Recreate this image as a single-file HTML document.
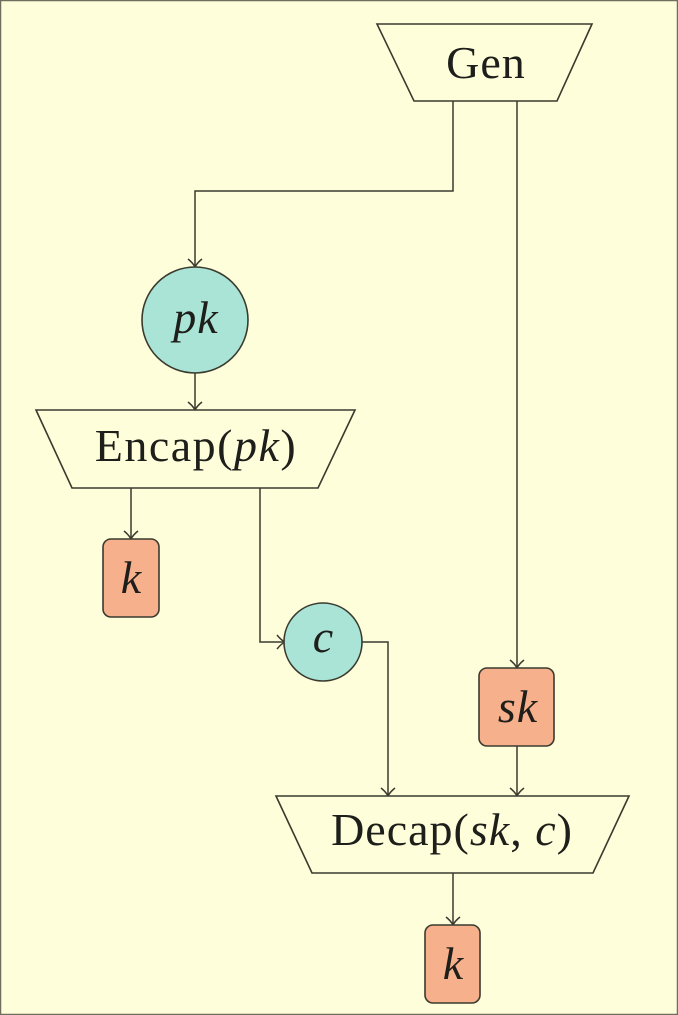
<!DOCTYPE html>
<html>
<head>
<meta charset="utf-8">
<style>
html,body{margin:0;padding:0;background:#fefedb;}
body{width:678px;height:1015px;overflow:hidden;}
svg{display:block;}
text{font-family:"Liberation Serif",serif;fill:#1e1e1a;}
.i{font-style:italic;}
</style>
</head>
<body>
<svg width="678" height="1015" viewBox="0 0 678 1015" xmlns="http://www.w3.org/2000/svg">
<rect x="0.5" y="0.5" width="677" height="1014" fill="#fefedb" stroke="#6e6e5e" stroke-width="1.5"/>
<g fill="none" stroke="#3a3a2f" stroke-width="1.5">
  <polyline points="453,101 453,191 195,191 195,266"/>
  <polyline points="517,101 517,667"/>
  <polyline points="195,373 195,409"/>
  <polyline points="131,488 131,538"/>
  <polyline points="260,488 260,642 283,642"/>
  <polyline points="362,642 388,642 388,795"/>
  <polyline points="517,746 517,795"/>
  <polyline points="453,873 453,924"/>
  <path d="M188,259 Q193,263 195,267 Q197,263 202,259"/>
  <path d="M510,660 Q515,664 517,668 Q519,664 524,660"/>
  <path d="M188,402 Q193,406 195,410 Q197,406 202,402"/>
  <path d="M124,531 Q129,535 131,539 Q133,535 138,531"/>
  <path d="M381,788 Q386,792 388,796 Q390,792 395,788"/>
  <path d="M510,788 Q515,792 517,796 Q519,792 524,788"/>
  <path d="M446,917 Q451,921 453,925 Q455,921 460,917"/>
  <path d="M277,635 Q281,640 285,642 Q281,644 277,649"/>
</g>
<g stroke="#3a3a2f" stroke-width="1.6">
  <polygon points="377,24 592,24 557,101 414,101" fill="#fefedb"/>
  <polygon points="36,410 355,410 318,488 72,488" fill="#fefedb"/>
  <polygon points="276,796 629,796 593,873 312,873" fill="#fefedb"/>
  <circle cx="195" cy="320" r="53" fill="#a9e4d6"/>
  <circle cx="323" cy="642" r="39" fill="#a9e4d6"/>
  <rect x="479" y="668" width="75" height="78" rx="8" fill="#f6b08c"/>
  <rect x="103" y="539" width="56" height="78" rx="8" fill="#f6b08c"/>
  <rect x="425" y="925" width="55" height="78" rx="8" fill="#f6b08c"/>
</g>
<text x="486" y="78" font-size="46" text-anchor="middle" letter-spacing="1">Gen</text>
<text x="196" y="333" font-size="46" text-anchor="middle" class="i" letter-spacing="1">pk</text>
<text x="196" y="461" font-size="46" text-anchor="middle" letter-spacing="1.5">Encap(<tspan class="i">pk</tspan>)</text>
<text x="131" y="593" font-size="46" text-anchor="middle" class="i">k</text>
<text x="323" y="652" font-size="46" text-anchor="middle" class="i">c</text>
<text x="518" y="722" font-size="46" text-anchor="middle" class="i" letter-spacing="1">sk</text>
<text x="452" y="845" font-size="46" text-anchor="middle" letter-spacing="1">Decap(<tspan class="i">sk</tspan>, <tspan class="i">c</tspan>)</text>
<text x="453" y="979" font-size="46" text-anchor="middle" class="i">k</text>
</svg>
</body>
</html>
